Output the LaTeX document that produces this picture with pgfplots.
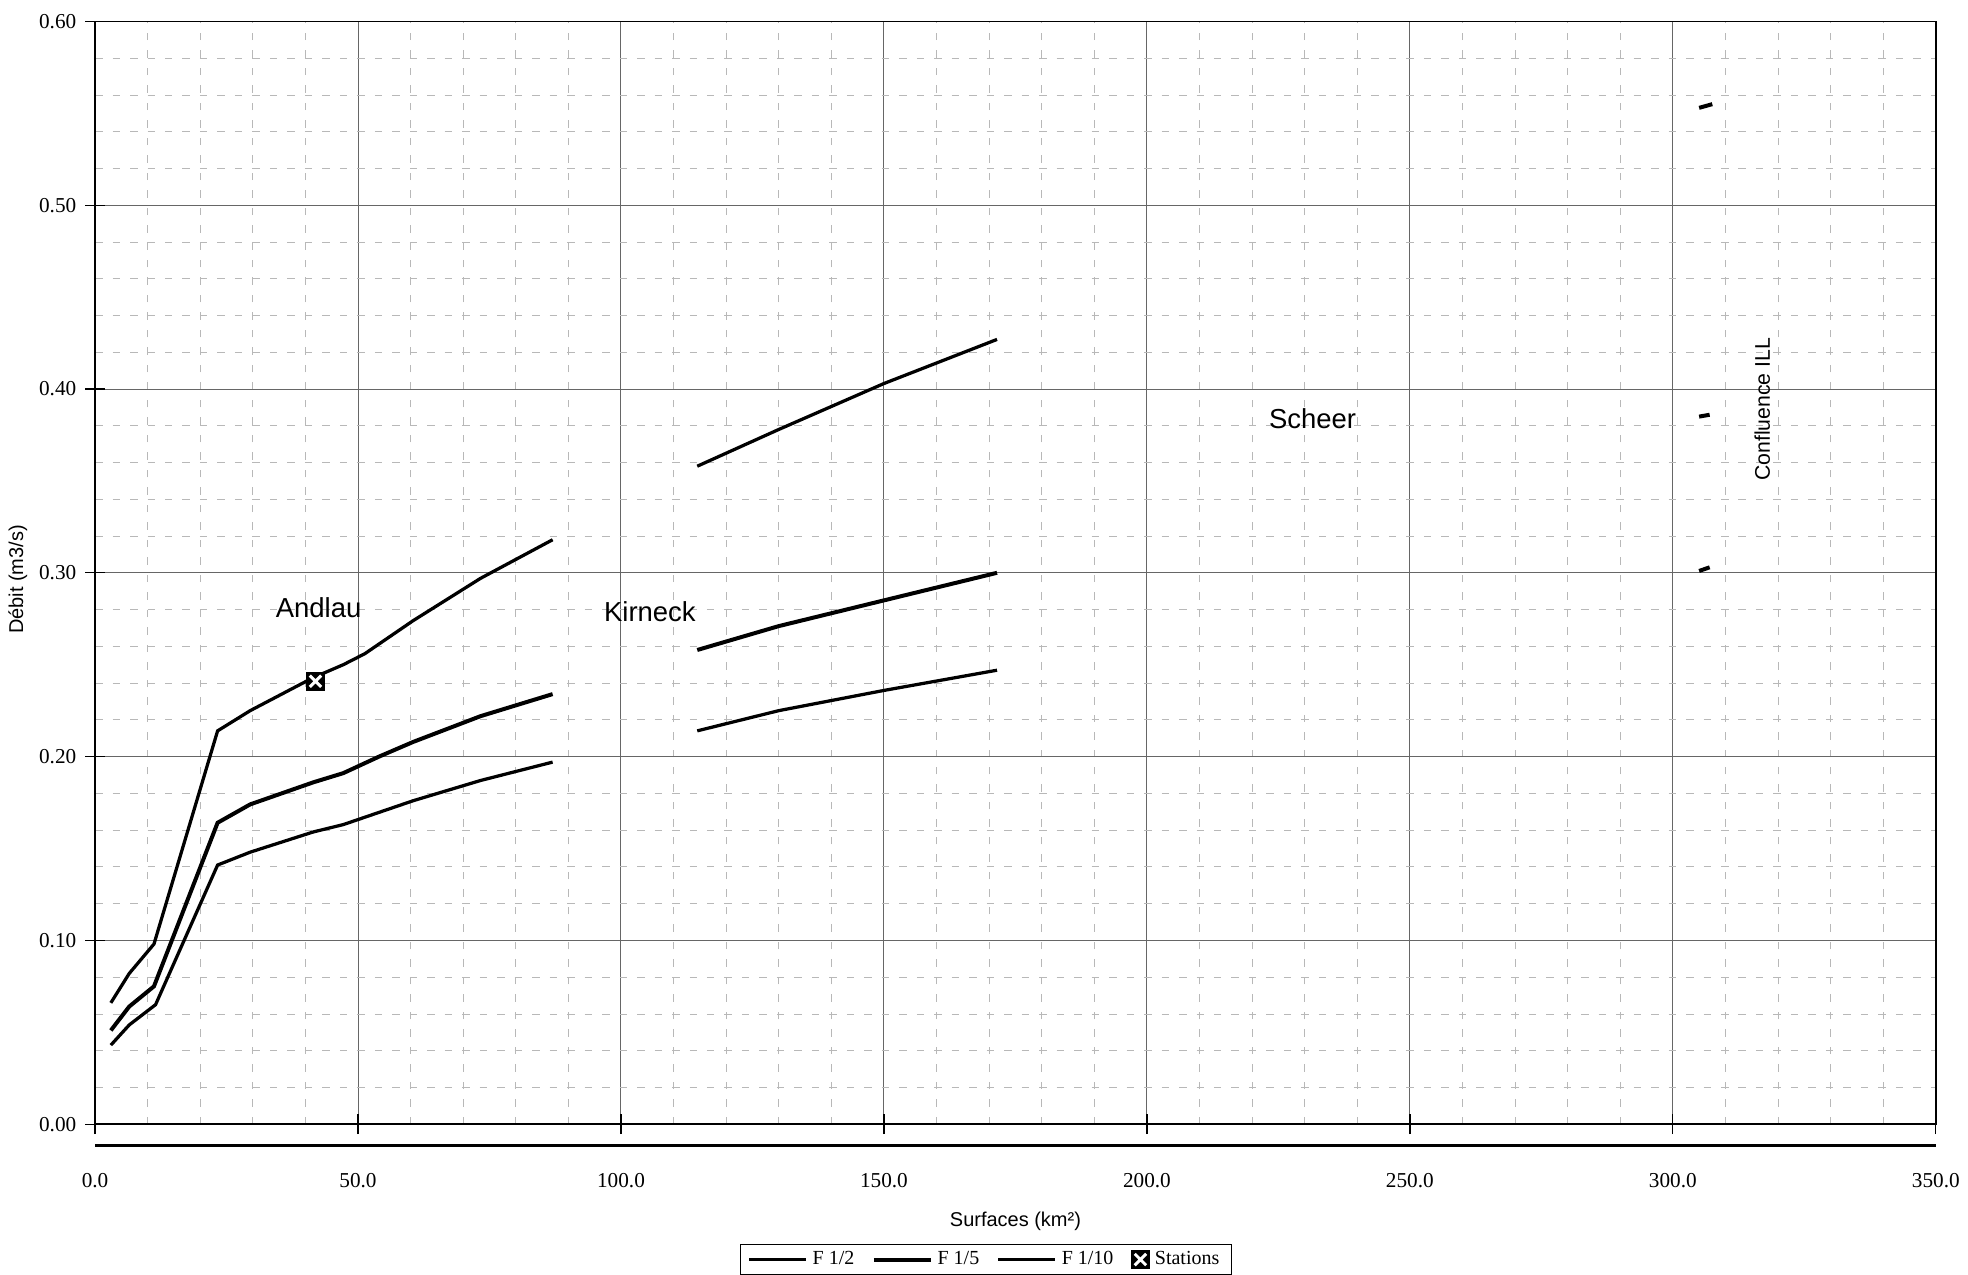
\documentclass[border=0pt]{standalone}
\usepackage{fontspec}
\setmainfont{Liberation Serif}
\newfontfamily\arial{Liberation Sans}
\usepackage{pgfplots}
\pgfplotsset{compat=1.18}

% black square with a white cross, as in the scan
\pgfdeclareplotmark{station}{%
  \pgfpathrectangle{\pgfpoint{-\pgfplotmarksize}{-\pgfplotmarksize}}{\pgfpoint{2\pgfplotmarksize}{2\pgfplotmarksize}}%
  \pgfsetfillcolor{black}\pgfusepathqfill
  \pgfsetstrokecolor{white}\pgfsetlinewidth{1.2pt}%
  \pgfpathmoveto{\pgfpoint{-0.6\pgfplotmarksize}{-0.6\pgfplotmarksize}}%
  \pgfpathlineto{\pgfpoint{0.6\pgfplotmarksize}{0.6\pgfplotmarksize}}%
  \pgfpathmoveto{\pgfpoint{-0.6\pgfplotmarksize}{0.6\pgfplotmarksize}}%
  \pgfpathlineto{\pgfpoint{0.6\pgfplotmarksize}{-0.6\pgfplotmarksize}}%
  \pgfusepathqstroke
}

\begin{document}
\begin{tikzpicture}
\begin{axis}[
    name=ax,
    scale only axis,
    width=737pt, height=441.5pt,
    xmin=0, xmax=350, ymin=0, ymax=0.6,
    xtick={0,50,100,150,200,250,300,350},
    ytick={0,0.1,0.2,0.3,0.4,0.5,0.6},
    minor x tick num=4, minor y tick num=4,
    grid=both,
    major grid style={black!60, line width=0.4pt},
    minor grid style={black!28, dash pattern=on 3pt off 4pt, line width=0.3pt},
    axis line style={black, line width=0.6pt},
    tick style={black, line width=0.5pt},
    major tick length=8pt, minor tick length=0pt, tick align=center,
    xtick pos=bottom, ytick pos=left,
    /pgf/number format/assume math mode=true,
    xticklabel style={/pgf/number format/.cd, fixed, fixed zerofill, precision=1,
        /tikz/.cd, anchor=center, yshift=-18.5pt},
    yticklabel style={/pgf/number format/.cd, fixed, fixed zerofill, precision=2},
    ticklabel style={font=\fontsize{8.5}{10}\selectfont},
    xlabel={\arial Surfaces (km²)},
    ylabel={\arial Débit (m3/s)},
    xlabel style={at={(axis description cs:0.5,0)}, anchor=center, yshift=-39pt},
    ylabel style={at={(axis description cs:-0.042,0.494)}, anchor=center},
    label style={font=\fontsize{8}{10}\selectfont},
    legend style={at={(0.484,-0.109)}, anchor=north, legend columns=4,
        draw=black, font=\fontsize{8}{9}\selectfont, inner ysep=0.5pt,
        /tikz/every even column/.append style={column sep=5pt}},
    legend image code/.code={\draw[mark repeat=2,mark phase=2,#1]
        plot coordinates {(0cm,0cm) (0.4cm,0cm) (0.8cm,0cm)};},
    legend cell align=left,
]
% Andlau
\addplot[black, line width=1.3pt] coordinates {
    (3.0,0.066) (6.5,0.082) (11.2,0.098) (23.3,0.214) (29.5,0.225)
    (41.5,0.243) (47.2,0.250) (51.3,0.256) (60.5,0.274) (73.3,0.297) (87.0,0.318)
};
\addlegendentry{F 1/2}
\addplot[black, line width=1.6pt] coordinates {
    (3.0,0.051) (6.5,0.064) (11.2,0.075) (23.3,0.164) (29.5,0.174)
    (41.5,0.186) (47.2,0.191) (54.0,0.200) (60.5,0.208) (73.3,0.222) (87.0,0.234)
};
\addlegendentry{F 1/5}
\addplot[black, line width=1.3pt] coordinates {
    (3.0,0.043) (6.5,0.054) (11.5,0.065) (23.3,0.141) (29.5,0.148)
    (41.5,0.159) (47.2,0.163) (60.5,0.176) (73.3,0.187) (87.0,0.197)
};
\addlegendentry{F 1/10}
\addplot[only marks, mark=station, mark size=3.8pt] coordinates {(41.9,0.241)};
\addlegendentry{Stations}
% Kirneck
\addplot[black, line width=1.3pt, forget plot] coordinates {
    (114.5,0.358) (130.0,0.378) (150.0,0.403) (171.5,0.427)
};
\addplot[black, line width=1.6pt, forget plot] coordinates {
    (114.5,0.258) (130.0,0.271) (150.0,0.285) (171.5,0.300)
};
\addplot[black, line width=1.3pt, forget plot] coordinates {
    (114.5,0.214) (130.0,0.225) (150.0,0.236) (171.5,0.247)
};
% Confluence ILL
\addplot[black, line width=1.6pt, forget plot] coordinates {(305.0,0.553) (307.5,0.555)};
\addplot[black, line width=1.6pt, forget plot] coordinates {(305.0,0.385) (307.0,0.386)};
\addplot[black, line width=1.6pt, forget plot] coordinates {(305.0,0.301) (307.0,0.303)};

\node[font=\arial\fontsize{11}{12}\selectfont] at (axis cs:42.5,0.281) {Andlau};
\node[font=\arial\fontsize{11}{12}\selectfont] at (axis cs:105.5,0.279) {Kirneck};
\node[font=\arial\fontsize{11}{12}\selectfont] at (axis cs:231.5,0.384) {Scheer};
\node[font=\arial\fontsize{8.5}{10}\selectfont, rotate=90] at (axis cs:317,0.389) {Confluence ILL};
\end{axis}
% heavy rule under the plot area, as in the scan
\draw[black, line width=1.3pt] ([yshift=-8.5pt]ax.south west) -- ([yshift=-8.5pt]ax.south east);
% room above the top tick label
\path ([yshift=8.6pt]ax.north west);
\end{tikzpicture}
\end{document}
